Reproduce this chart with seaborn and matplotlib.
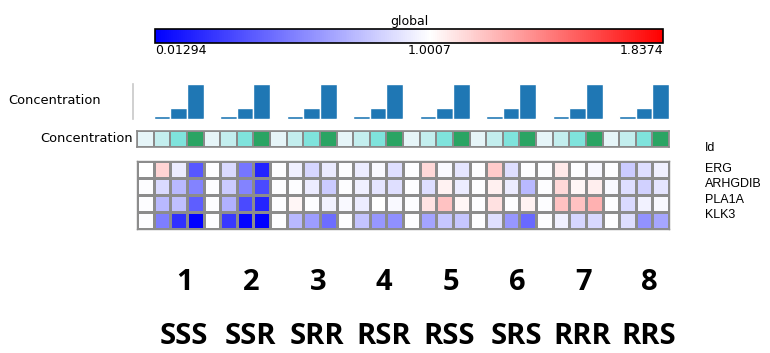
import matplotlib
matplotlib.use("Agg")
import matplotlib.pyplot as plt
import numpy as np
import pandas as pd
import seaborn as sns
from matplotlib.cm import ScalarMappable
from matplotlib.colors import LinearSegmentedColormap, ListedColormap, Normalize

# --- data -------------------------------------------------------------------
genes = ["ERG", "ARHGDIB", "PLA1A", "KLK3"]
group_numbers = ["1", "2", "3", "4", "5", "6", "7", "8"]
group_names = ["SSS", "SSR", "SRR", "RSR", "RSS", "SRS", "RRR", "RRS"]

# bar heights of the four concentration steps (same in every group)
conc_levels = [0.25, 1.0, 3.1, 10.0]
conc_colors = ["#e6f5f8", "#c3eeee", "#7fe3dc", "#2aa463"]

erg = [1.00, 1.14, 0.93, 0.35, 0.99, 0.86, 0.47, 0.15,
       0.99, 0.94, 0.84, 0.92, 0.99, 0.93, 0.98, 0.88,
       0.99, 1.13, 0.98, 0.90, 0.99, 1.17, 0.87, 0.99,
       0.99, 1.07, 0.99, 0.97, 0.99, 0.80, 0.87, 0.94]
arhgdib = [0.99, 0.86, 0.73, 0.52, 0.99, 0.80, 0.52, 0.30,
           0.99, 0.99, 0.93, 0.80, 0.99, 0.94, 0.90, 0.88,
           0.99, 0.87, 1.04, 0.93, 0.99, 1.05, 0.93, 0.73,
           0.99, 1.13, 1.03, 1.06, 0.98, 0.87, 0.82, 0.90]
pla1a = [0.99, 0.73, 0.76, 0.38, 0.99, 0.70, 0.30, 0.15,
         0.99, 1.03, 0.99, 0.95, 0.98, 0.93, 1.00, 0.98,
         0.99, 1.09, 1.20, 1.03, 0.99, 1.10, 0.99, 1.04,
         0.99, 1.20, 1.20, 1.26, 0.99, 0.86, 0.95, 0.98]
klk3 = [0.99, 0.50, 0.20, 0.02, 0.99, 0.24, 0.03, 0.02,
        0.99, 0.73, 0.62, 0.44, 0.99, 0.77, 0.60, 0.57,
        0.99, 0.65, 0.78, 0.78, 0.99, 0.88, 0.60, 0.42,
        0.99, 0.94, 0.84, 0.85, 0.99, 0.87, 0.58, 0.66]

vmin, vmid, vmax = 0.01294, 1.0007, 1.8374

# --- derived tables ---------------------------------------------------------
n_groups = len(group_names)
n_cols = n_groups * len(conc_levels)
columns = [f"c{i}" for i in range(n_cols)]
heat = pd.DataFrame([erg, arhgdib, pla1a, klk3], index=genes, columns=columns)
bars = pd.DataFrame({"col": columns, "conc": conc_levels * n_groups})
conc_row = pd.DataFrame([list(range(len(conc_levels))) * n_groups], columns=columns)

W, H = 770, 353


def box(x0, y0, x1, y1):
    # pixel box (top-left origin) -> figure fraction rect
    return [x0 / W, 1 - y1 / H, (x1 - x0) / W, (y1 - y0) / H]


sns.set_style("white")
plt.rcParams["font.family"] = ["DejaVu Sans"]
plt.rcParams["text.color"] = "black"
plt.rcParams["xtick.color"] = "black"
plt.rcParams["xtick.labelcolor"] = "black"

fig = plt.figure(figsize=(W / 100, H / 100), dpi=100)

white_pos = (vmid - vmin) / (vmax - vmin)
cmap = LinearSegmentedColormap.from_list(
    "global", [(0, "#0000ff"), (white_pos, "#ffffff"), (1, "#ff0000")])
norm = Normalize(vmin=vmin, vmax=vmax)

# colour bar
cax = fig.add_axes(box(155, 29, 663, 43))
cb = fig.colorbar(ScalarMappable(norm=norm, cmap=cmap), cax=cax, orientation="horizontal")
cb.set_ticks([vmin, vmid, vmax])
cb.set_ticklabels(["0.01294", "1.0007", "1.8374"])
cax.tick_params(length=0, labelsize=9, pad=1, labelcolor="black")
tl = cax.get_xticklabels()
tl[0].set_ha("left")
tl[-1].set_ha("right")
cb.outline.set_linewidth(1.2)
cb.outline.set_edgecolor("black")
cax.set_title("global", fontsize=9, pad=3, color="black")

# concentration bars
bax = fig.add_axes(box(137, 84, 669, 119))
sns.barplot(data=bars, x="col", y="conc", color="#1f77b4", saturation=1,
            width=1, ax=bax)
bax.set_xlim(-0.5, n_cols - 0.5)
bax.set_ylim(0, max(conc_levels))
bax.set_xticks([])
bax.set_yticks([])
bax.set_xlabel("")
bax.set_ylabel("")
for s in ["top", "right", "bottom"]:
    bax.spines[s].set_visible(False)
bax.spines["left"].set_color("#c8c8c8")
bax.spines["left"].set_linewidth(1.2)
bax.spines["left"].set_position(("outward", 3))
fig.text(8 / W, 1 - 100 / H, "Concentration", fontsize=9.4, va="center", ha="left")

# concentration annotation row
aax = fig.add_axes(box(137, 131, 669, 147))
sns.heatmap(conc_row, cmap=ListedColormap(conc_colors), vmin=-0.5, vmax=3.5,
            cbar=False, linewidths=1.2, linecolor="#8a8a8a", ax=aax,
            xticklabels=False, yticklabels=False)
for s in aax.spines.values():
    s.set_visible(True)
    s.set_color("#8a8a8a")
    s.set_linewidth(1.2)
fig.text(133 / W, 1 - 139 / H, "Concentration", fontsize=9.4, va="center", ha="right")

# expression heat map
hax = fig.add_axes(box(137, 161, 669, 229))
sns.heatmap(heat, cmap=cmap, vmin=vmin, vmax=vmax, cbar=False,
            linewidths=0.8, linecolor="#8c8c8c", ax=hax,
            xticklabels=False, yticklabels=False)
for s in hax.spines.values():
    s.set_visible(True)
    s.set_color("#8c8c8c")
    s.set_linewidth(1.0)

fig.text(705 / W, 1 - 148 / H, "Id", fontsize=9, va="center",
         family=["Liberation Sans"])
for i, g in enumerate(genes):
    fig.text(705 / W, 1 - (169 + i * 15.5) / H, g, fontsize=9, va="center",
             family=["Liberation Sans"])

# group numbers and names
for i, (num, name) in enumerate(zip(group_numbers, group_names)):
    x = (185 + i * 66.4) / W
    fig.text(x, 1 - 283 / H, num, fontsize=21, fontweight="bold",
             ha="center", va="center", family=["Open Sans"])
    fig.text(x - 1 / W, 1 - 336 / H, name, fontsize=21, fontweight="bold",
             ha="center", va="center", family=["Open Sans"])

fig.savefig("out.png", dpi=100)
